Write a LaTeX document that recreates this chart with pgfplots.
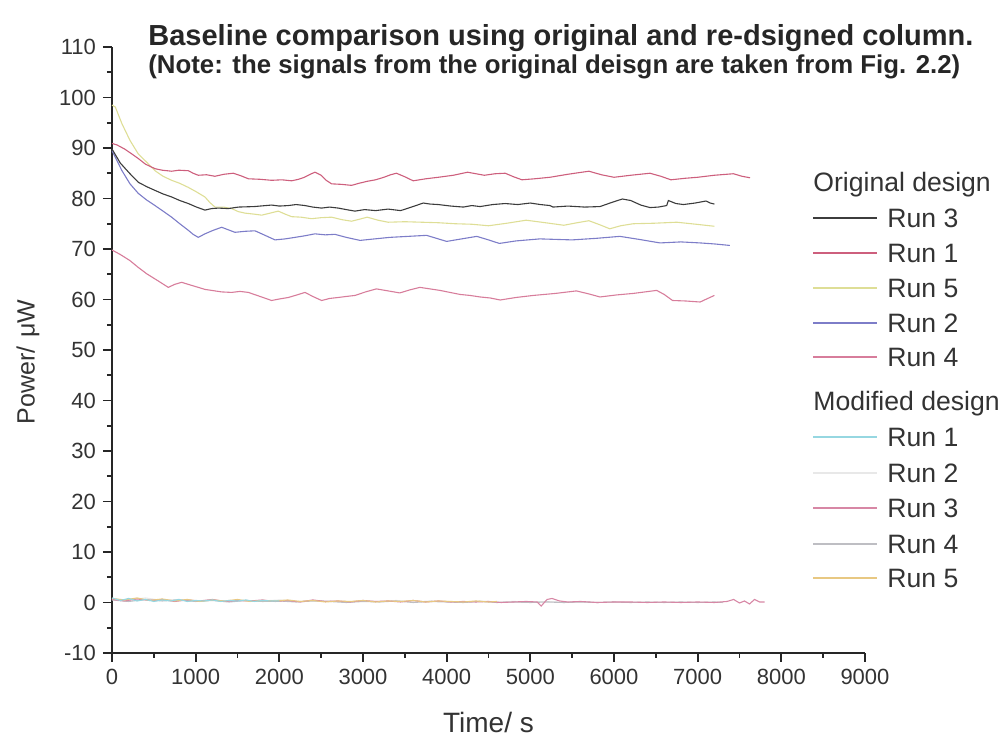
\documentclass[border=0pt]{standalone}
\usepackage{fontspec}
\setmainfont{Liberation Sans}
\usepackage{pgfplots}
\pgfplotsset{compat=1.18}
\definecolor{oR3}{RGB}{60,60,60}
\definecolor{oR1}{RGB}{205,95,125}
\definecolor{oR5}{RGB}{222,222,150}
\definecolor{oR2}{RGB}{125,125,200}
\definecolor{oR4}{RGB}{215,125,155}
\definecolor{mR1}{RGB}{150,215,225}
\definecolor{mR2}{RGB}{232,232,232}
\definecolor{mR3}{RGB}{215,135,165}
\definecolor{mR4}{RGB}{190,190,195}
\definecolor{mR5}{RGB}{232,200,130}
\begin{document}
\begin{tikzpicture}
\path[use as bounding box] (-56pt,-42pt) rectangle (443pt,326.5pt);
\begin{axis}[
  scale only axis, width=376.5pt, height=303pt,
  at={(0,0)}, anchor=south west,
  xmin=0, xmax=9000, ymin=-10, ymax=110,
  axis x line=bottom, axis y line=left,
  axis line style={-, line width=1pt, color=black!85},
  xtick={0,1000,...,9000}, ytick={-10,0,...,110},
  minor tick num=1,
  tick align=outside,
  major tick length=4.5pt, minor tick length=2.5pt,
  every tick/.style={line width=0.9pt, color=black!85},
  /pgf/number format/assume math mode=true,
  /pgf/number format/1000 sep={},
  tick label style={font=\fontsize{11}{13}\selectfont, color=black!80},
  xlabel={Time/ s},
  xlabel style={at={(axis description cs:0.5,-0.1155)}, anchor=center, font=\fontsize{14}{16}\selectfont, color=black!80},
  ylabel={Power/\hspace{0.35em}μW},
  ylabel style={at={(axis description cs:-0.1116,0.48)}, anchor=center, rotate=0, font=\fontsize{12.5}{14}\selectfont, color=black!80},
  clip=false,
  every axis plot/.append style={line width=0.55pt},
]
% Modified design
\addplot[mR2] coordinates {(0,0.7)(200,0.5)(400,0.9)(600,0.4)(800,0.6)(1000,0.3)(1200,0.5)(1400,0.2)(1600,0.4)(1800,0.3)(2000,0.5)(2200,0.2)(2400,0.4)(2600,0.3)(2800,0.1)(3000,0.3)(3200,0.2)(3400,0.4)(3600,0.1)(3800,0.3)(4000,0.2)(4200,0.1)(4400,0.3)(4600,0.1)(4800,0.2)(5000,0.1)(5200,0.2)(5400,0.0)(5600,0.1)(5800,0.0)(6000,0.1)};
\addplot[mR4] coordinates {(0,0.5)(200,0.2)(400,0.6)(600,0.3)(800,0.5)(1000,0.2)(1200,0.4)(1400,0.1)(1600,0.4)(1800,0.2)(2000,0.3)(2200,0.1)(2400,0.3)(2600,0.2)(2800,0.0)(3000,0.2)(3200,0.1)(3400,0.3)(3600,0.0)(3800,0.2)(4000,0.1)(4200,0.0)(4400,0.2)(4600,0.0)(4800,0.1)(5000,0.0)(5200,0.1)(5400,0.0)(5600,0.1)(5800,0.0)(6000,0.1)(6200,0.0)(6400,0.1)(6600,0.0)(6800,0.1)(7000,0.0)(7200,0.1)(7300,0.0)};
\addplot[mR3] coordinates {(0,0.6)(150,0.3)(300,0.7)(450,0.4)(600,0.6)(750,0.2)(900,0.5)(1050,0.3)(1200,0.6)(1350,0.2)(1500,0.4)(1650,0.3)(1800,0.5)(1950,0.2)(2100,0.4)(2250,0.1)(2400,0.5)(2550,0.2)(2700,0.3)(2850,0.1)(3000,0.4)(3150,0.2)(3300,0.3)(3450,0.1)(3600,0.4)(3750,0.1)(3900,0.3)(4050,0.1)(4200,0.2)(4350,0.1)(4500,0.2)(4650,0.0)(4800,0.1)(4950,0.2)(5080,0.1)(5130,-0.7)(5200,0.6)(5260,0.8)(5350,0.3)(5450,0.1)(5600,0.2)(5800,0.0)(6000,0.1)(6200,0.1)(6400,0.0)(6600,0.1)(6800,0.0)(7000,0.1)(7200,0.0)(7350,0.2)(7430,0.6)(7500,-0.1)(7560,0.3)(7620,-0.3)(7680,0.6)(7740,0.1)(7800,0.1)};
\addplot[mR5] coordinates {(0,0.8)(150,0.5)(300,0.9)(450,0.4)(600,0.7)(750,0.3)(900,0.6)(1050,0.2)(1200,0.5)(1350,0.3)(1500,0.6)(1650,0.2)(1800,0.4)(1950,0.3)(2100,0.5)(2250,0.2)(2400,0.4)(2550,0.1)(2700,0.3)(2850,0.2)(3000,0.4)(3150,0.1)(3300,0.3)(3450,0.2)(3600,0.4)(3750,0.1)(3900,0.3)(4050,0.2)(4200,0.1)(4350,0.3)(4500,0.1)(4600,0.2)};
\addplot[mR1] coordinates {(0,0.9)(100,0.4)(200,0.8)(300,0.3)(400,0.6)(500,0.2)(600,0.5)(700,0.3)(800,0.6)(900,0.2)(1000,0.4)(1100,0.3)(1200,0.5)(1300,0.2)(1400,0.4)(1500,0.3)(1600,0.5)(1700,0.2)(1800,0.4)(1900,0.3)(2000,0.3)};
% Original design
\addplot[oR4] coordinates {(0,69.8)(100,68.9)(215,67.7)(310,66.4)(414,65.1)(540,63.8)(673,62.4)(750,63.0)(833,63.4)(930,62.9)(1031,62.4)(1110,62.0)(1191,61.8)(1310,61.5)(1430,61.4)(1530,61.6)(1630,61.4)(1770,60.6)(1908,59.8)(2000,60.1)(2108,60.4)(2210,60.9)(2307,61.4)(2400,60.6)(2506,59.8)(2600,60.2)(2705,60.4)(2800,60.6)(2904,60.8)(3030,61.5)(3160,62.1)(3300,61.7)(3440,61.3)(3560,61.9)(3680,62.4)(3800,62.1)(3920,61.8)(4040,61.4)(4160,61.0)(4280,60.8)(4400,60.5)(4520,60.3)(4640,59.9)(4830,60.4)(5035,60.8)(5300,61.2)(5550,61.7)(5700,61.1)(5833,60.5)(6030,60.9)(6230,61.2)(6370,61.5)(6510,61.8)(6600,61.0)(6700,59.8)(6860,59.7)(7030,59.5)(7120,60.2)(7200,60.8)};
\addplot[oR2] coordinates {(0,89.5)(60,87.5)(116,85.6)(215,82.9)(315,81.0)(414,79.7)(514,78.6)(610,77.5)(713,76.3)(810,75.0)(912,73.7)(970,72.9)(1031,72.3)(1111,73.0)(1210,73.7)(1311,74.3)(1390,73.8)(1470,73.3)(1590,73.5)(1709,73.6)(1830,72.7)(1948,71.8)(2070,72.0)(2187,72.3)(2300,72.6)(2426,73.0)(2550,72.8)(2665,72.9)(2800,72.3)(2965,71.7)(3140,72.0)(3320,72.3)(3540,72.5)(3760,72.7)(3880,72.1)(4000,71.5)(4180,72.0)(4360,72.5)(4500,71.8)(4630,71.1)(4830,71.6)(5115,72.0)(5300,71.9)(5500,71.8)(5780,72.1)(6070,72.5)(6300,71.9)(6550,71.2)(6800,71.4)(7030,71.2)(7200,71.0)(7386,70.7)};
\addplot[oR5] coordinates {(0,98.5)(40,98.1)(119,94.8)(215,91.5)(315,88.8)(414,87.2)(514,85.5)(610,84.4)(713,83.6)(810,83.0)(912,82.2)(1010,81.3)(1111,80.3)(1170,79.2)(1231,78.3)(1330,78.3)(1430,78.0)(1510,77.4)(1590,77.1)(1700,76.9)(1789,76.7)(1890,77.1)(1988,77.5)(2070,76.9)(2147,76.4)(2260,76.3)(2386,76.0)(2500,76.2)(2625,76.3)(2750,75.8)(2864,75.5)(2960,75.9)(3050,76.3)(3180,75.7)(3300,75.3)(3500,75.4)(3700,75.3)(3900,75.2)(4100,75.0)(4300,74.9)(4500,74.6)(4720,75.1)(4950,75.7)(5180,75.2)(5400,74.7)(5560,75.2)(5700,75.6)(5830,74.8)(5950,74.0)(6080,74.6)(6230,75.0)(6480,75.1)(6750,75.3)(6980,74.9)(7200,74.5)};
\addplot[oR1] coordinates {(0,90.9)(60,90.6)(150,89.8)(230,88.9)(315,87.9)(400,86.8)(514,85.9)(600,85.6)(713,85.4)(800,85.6)(912,85.5)(970,85.0)(1031,84.6)(1130,84.7)(1230,84.4)(1340,84.8)(1450,85.0)(1540,84.5)(1630,83.9)(1770,83.8)(1908,83.6)(2030,83.7)(2147,83.5)(2230,83.8)(2300,84.2)(2370,84.8)(2426,85.2)(2500,84.6)(2560,83.6)(2625,82.9)(2740,82.8)(2864,82.6)(2950,83.0)(3050,83.4)(3150,83.7)(3250,84.2)(3330,84.7)(3400,85.0)(3500,84.3)(3600,83.5)(3750,83.9)(3900,84.2)(4080,84.6)(4250,85.2)(4350,84.9)(4450,84.6)(4580,84.9)(4700,85.0)(4800,84.3)(4900,83.7)(5050,83.9)(5235,84.2)(5450,84.8)(5700,85.4)(5850,84.7)(6000,84.2)(6200,84.6)(6430,85.0)(6560,84.4)(6680,83.7)(6850,84.0)(7000,84.2)(7200,84.6)(7427,84.9)(7530,84.4)(7626,84.1)};
\addplot[oR3] coordinates {(0,89.8)(100,87.0)(215,84.9)(315,83.2)(420,82.3)(514,81.6)(610,80.9)(713,80.3)(810,79.6)(912,79.0)(1010,78.3)(1111,77.7)(1190,78.0)(1271,78.1)(1390,78.0)(1510,78.3)(1700,78.4)(1908,78.7)(2000,78.5)(2108,78.6)(2200,78.8)(2307,78.6)(2400,78.3)(2506,78.1)(2600,78.3)(2705,78.1)(2800,77.8)(2904,77.5)(3020,77.8)(3150,77.6)(3300,77.9)(3450,77.6)(3580,78.3)(3720,79.1)(3800,78.9)(3900,78.8)(4050,78.5)(4200,78.3)(4300,78.6)(4400,78.4)(4550,78.8)(4700,79.0)(4850,78.8)(5000,79.1)(5120,78.8)(5235,78.6)(5270,78.3)(5450,78.5)(5650,78.3)(5833,78.4)(5970,79.2)(6100,79.9)(6200,79.6)(6320,78.7)(6430,78.2)(6530,78.3)(6630,78.6)(6650,79.6)(6740,79.0)(6830,78.8)(6970,79.1)(7100,79.5)(7150,79.1)(7200,78.9)};
\end{axis}
% Titles
\node[anchor=west, inner sep=0pt, font=\bfseries\fontsize{14.5}{16}\selectfont, color=black!85] at (18pt,307.5pt) {Baseline comparison using original and re-dsigned column.};
\node[anchor=west, inner sep=0pt, font=\bfseries\fontsize{12.9}{14}\selectfont, color=black!85] at (18pt,293pt) {(Note: the signals from the original deisgn are taken from Fig. 2.2)};
% Legend
\begin{scope}[every node/.style={anchor=west, inner sep=0pt, font=\fontsize{13.3}{15}\selectfont, color=black!80}]
\node at (350.5pt,234pt) {Original design};
\draw[oR3, line width=0.7pt] (350.5pt,217.5pt) -- (382.5pt,217.5pt); \node at (387.5pt,217.5pt) {Run 3};
\draw[oR1, line width=0.7pt] (350.5pt,200pt) -- (382.5pt,200pt); \node at (387.5pt,200pt) {Run 1};
\draw[oR5, line width=0.7pt] (350.5pt,182.5pt) -- (382.5pt,182.5pt); \node at (387.5pt,182.5pt) {Run 5};
\draw[oR2, line width=0.7pt] (350.5pt,165pt) -- (382.5pt,165pt); \node at (387.5pt,165pt) {Run 2};
\draw[oR4, line width=0.7pt] (350.5pt,148pt) -- (382.5pt,148pt); \node at (387.5pt,148pt) {Run 4};
\node at (350.5pt,124.5pt) {Modified design};
\draw[mR1, line width=0.7pt] (350.5pt,108pt) -- (382.5pt,108pt); \node at (387.5pt,108pt) {Run 1};
\draw[mR2, line width=0.7pt] (350.5pt,90pt) -- (382.5pt,90pt); \node at (387.5pt,90pt) {Run 2};
\draw[mR3, line width=0.7pt] (350.5pt,72.5pt) -- (382.5pt,72.5pt); \node at (387.5pt,72.5pt) {Run 3};
\draw[mR4, line width=0.7pt] (350.5pt,54.5pt) -- (382.5pt,54.5pt); \node at (387.5pt,54.5pt) {Run 4};
\draw[mR5, line width=0.7pt] (350.5pt,37.5pt) -- (382.5pt,37.5pt); \node at (387.5pt,37.5pt) {Run 5};
\end{scope}
\end{tikzpicture}
\end{document}
